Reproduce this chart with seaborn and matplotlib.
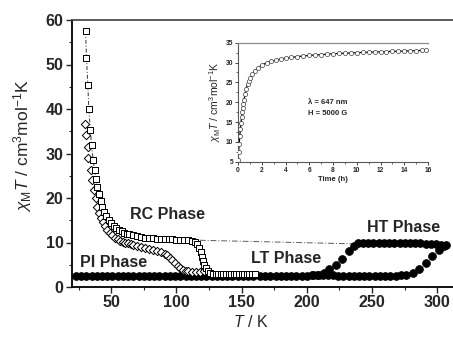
import matplotlib
matplotlib.use("Agg")
import matplotlib.pyplot as plt
import seaborn as sns
import pandas as pd

# ---------------- data ----------------
# open squares (RC phase)
sq_T = [30.4, 31.1, 32.1, 32.9, 34.1, 35.0, 36.2, 37.3, 38.4, 39.5, 40.8, 42.0, 43.3, 44.6,
        46, 48, 50, 52, 54, 56, 58, 60, 62, 64, 67, 70, 73, 76, 79, 82, 85, 88, 91, 94, 97,
        100, 103, 106, 109, 112, 114, 116, 117.5, 118.5, 119.5, 120.5, 121.5, 122.5, 124, 126,
        128, 130, 132, 134, 136, 138, 140, 142, 144, 146, 148, 150, 152, 154, 156, 158, 160]
sq_v = [57.5, 51.5, 45.5, 40.0, 35.3, 31.8, 28.6, 26.2, 24.2, 22.5, 20.8, 19.3, 18.0, 16.9,
        16.0, 15.0, 14.3, 13.7, 13.2, 12.8, 12.5, 12.2, 12.0, 11.8, 11.6, 11.4, 11.25, 11.1, 11.0,
        10.9, 10.85, 10.8, 10.75, 10.7, 10.7, 10.65, 10.6, 10.55, 10.5, 10.4, 10.2, 9.7, 8.8, 7.8,
        6.8, 5.9, 5.0, 4.2, 3.5, 3.1, 3.0, 3.0, 3.0, 3.0, 3.0, 3.0, 3.0, 3.0, 3.0, 3.0, 3.0, 3.0,
        3.0, 3.0, 3.0, 3.0, 3.0]

# open diamonds (PI phase)
di_T = [30.0, 30.6, 31.9, 32.6, 34.4, 35.7, 37.0, 38.2, 39.5, 40.8, 42, 43.5, 45, 47, 49, 51,
        53, 55, 57, 59, 61, 63, 65, 67, 70, 73, 76, 79, 82, 85, 88, 91, 93, 95, 97, 99, 101,
        103, 105, 107, 109, 112, 115, 118, 121]
di_v = [36.6, 34.2, 31.5, 28.9, 26.3, 24.0, 21.8, 19.9, 18.0, 16.6, 15.6, 14.6, 13.8, 12.9,
        12.2, 11.6, 11.1, 10.7, 10.4, 10.2, 10.0, 9.8, 9.6, 9.4, 9.2, 9.0, 8.8, 8.6, 8.4, 8.2,
        7.9, 7.5, 7.1, 6.6, 6.0, 5.4, 4.8, 4.3, 3.9, 3.6, 3.5, 3.4, 3.4, 3.4, 3.5]

# filled circles, heating branch
heat_T = [23, 27, 31, 35, 39, 43, 47, 51, 55, 59, 63, 67, 71, 75, 79, 83, 87, 91, 95, 99, 103,
          107, 111, 115, 119, 123, 127, 131, 135, 139, 143, 147, 151, 155, 159, 164, 168, 172,
          176, 180, 184, 188, 192, 196, 200, 204, 208, 212, 216, 220, 224, 228, 232, 236, 240,
          244, 248, 252, 256, 260, 264, 268, 272, 276, 281, 286, 291, 296, 301, 305]
heat_v = [2.5, 2.5, 2.5, 2.5, 2.5, 2.5, 2.5, 2.5, 2.5, 2.5, 2.5, 2.5, 2.5, 2.5, 2.5, 2.5, 2.5,
          2.5, 2.5, 2.5, 2.5, 2.5, 2.5, 2.5, 2.5, 2.5, 2.5, 2.5, 2.5, 2.5, 2.5, 2.5, 2.5, 2.5,
          2.5, 2.5, 2.5, 2.5, 2.5, 2.5, 2.5, 2.5, 2.5, 2.5, 2.5, 2.6, 2.6, 2.7, 2.7, 2.6, 2.5,
          2.5, 2.5, 2.5, 2.5, 2.5, 2.5, 2.5, 2.5, 2.5, 2.5, 2.5, 2.6, 2.8, 3.2, 4.0, 5.3, 7.0,
          8.3, 9.2]

# filled circles, cooling branch
cool_T = [307, 303, 299, 295, 291, 287, 283, 279, 275, 271, 267, 263, 259, 255, 251, 247, 243,
          239, 236, 232, 227, 222, 217, 213, 209, 205]
cool_v = [9.4, 9.5, 9.6, 9.7, 9.7, 9.8, 9.8, 9.8, 9.9, 9.9, 9.9, 10.0, 10.0, 10.0, 10.0, 10.0,
          10.0, 9.8, 9.2, 8.2, 6.4, 4.9, 4.0, 3.2, 2.8, 2.6]

# dash-dot guide line from RC plateau to HT phase
guide_T = [118, 236, 305]
guide_v = [10.5, 9.7, 9.4]

# inset: relaxation vs time
ins_t = [0.0, 0.05, 0.1, 0.15, 0.2, 0.25, 0.3, 0.35, 0.4, 0.45, 0.5, 0.6, 0.7, 0.8, 0.9, 1.0,
         1.2, 1.4, 1.7, 2.0, 2.4, 2.8, 3.2, 3.6, 4.0, 4.5, 5.0, 5.5, 6.0, 6.5, 7.0, 7.5, 8.0,
         8.5, 9.0, 9.5, 10.0, 10.5, 11.0, 11.5, 12.0, 12.5, 13.0, 13.5, 14.0, 14.5, 15.0, 15.5,
         15.8]
ins_v = [5.5, 7.5, 9.5, 11.5, 13.2, 14.8, 16.2, 17.5, 18.6, 19.6, 20.5, 22.1, 23.4, 24.5, 25.3,
         26.0, 27.0, 27.8, 28.7, 29.4, 29.9, 30.3, 30.6, 30.9, 31.1, 31.3, 31.5, 31.65, 31.8,
         31.9, 32.0, 32.1, 32.2, 32.3, 32.35, 32.4, 32.5, 32.55, 32.6, 32.65, 32.7, 32.75, 32.8,
         32.85, 32.9, 32.95, 33.0, 33.05, 33.1]

main_xticks = [50, 100, 150, 200, 250, 300]
main_yticks = [0, 10, 20, 30, 40, 50, 60]
ins_xticks = [0, 2, 4, 6, 8, 10, 12, 14, 16]
ins_yticks = [5, 10, 15, 20, 25, 30, 35]

# ---------------- style ----------------
sns.set_style("ticks")
plt.rcParams['font.family'] = ['Liberation Sans', 'DejaVu Sans']
plt.rcParams['mathtext.fontset'] = 'custom'
plt.rcParams['mathtext.rm'] = 'Liberation Sans'
plt.rcParams['mathtext.it'] = 'Liberation Sans:italic'

fig = plt.figure(figsize=(4.53, 3.38), dpi=100)
ax = fig.add_axes([72/453, 1-287/338, 381/453, 267/338])

df_sq = pd.DataFrame({"T": sq_T, "v": sq_v})
df_di = pd.DataFrame({"T": di_T, "v": di_v})
df_h = pd.DataFrame({"T": heat_T, "v": heat_v})
df_c = pd.DataFrame({"T": cool_T, "v": cool_v})
df_g = pd.DataFrame({"T": guide_T, "v": guide_v})

sns.lineplot(data=df_g, x="T", y="v", ax=ax, color="0.35", lw=0.7, linestyle=(0, (6, 2, 1, 2)),
             sort=False, estimator=None)
sns.lineplot(data=df_sq, x="T", y="v", ax=ax, color="0.2", lw=0.7, linestyle=(0, (4, 2, 1, 2)),
             sort=False, estimator=None)
sns.scatterplot(data=df_h, x="T", y="v", ax=ax, marker="o", s=32, color="black",
                edgecolor="black", linewidth=0.5, zorder=3)
sns.scatterplot(data=df_c, x="T", y="v", ax=ax, marker="o", s=32, color="black",
                edgecolor="black", linewidth=0.5, zorder=3)
sns.scatterplot(data=df_di, x="T", y="v", ax=ax, marker="D", s=18, color="white",
                edgecolor="black", linewidth=0.7, zorder=4)
sns.scatterplot(data=df_sq, x="T", y="v", ax=ax, marker="s", s=22, color="white",
                edgecolor="black", linewidth=0.7, zorder=5)

ax.set_xlim(20, 312)
ax.set_ylim(0, 60)
ax.set_xticks(main_xticks)
ax.set_yticks(main_yticks)
ax.set_xticks([25, 75, 125, 175, 225, 275], minor=True)
ax.set_yticks([5, 15, 25, 35, 45, 55], minor=True)
ax.tick_params(axis='both', which='major', direction='out', length=4, width=1.0, labelsize=11.5,
               pad=2)
ax.tick_params(axis='both', which='minor', direction='out', length=2.5, width=0.8)
for lab in ax.get_xticklabels() + ax.get_yticklabels():
    lab.set_fontweight('bold')
for s in ["left", "bottom"]:
    ax.spines[s].set_linewidth(1.3)
    ax.spines[s].set_color("black")
ax.spines["top"].set_linewidth(1.3)
ax.spines["top"].set_color("0.3")
ax.spines["right"].set_visible(False)

ax.set_xlabel(r"$T$ / K", fontsize=11.5)
ax.set_ylabel(r"$\chi_{\rm M}T$ / cm$^3$mol$^{-1}$K", fontsize=12.5)
ax.xaxis.set_label_coords(0.47, -0.10)
ax.yaxis.set_label_coords(-0.10, 0.53)

ax.text(64.5, 16.2, "RC Phase", fontsize=11.5, fontweight='bold', ha='left', va='center')
ax.text(26, 5.6, "PI Phase", fontsize=11.5, fontweight='bold', ha='left', va='center')
ax.text(157, 6.4, "LT Phase", fontsize=11.5, fontweight='bold', ha='left', va='center')
ax.text(246, 13.4, "HT Phase", fontsize=11.5, fontweight='bold', ha='left', va='center')

# ---------------- inset ----------------
ins = fig.add_axes([238/453, 1-161.7/338, 190/453, 119/338])
ins.patch.set_alpha(0)
df_i = pd.DataFrame({"t": ins_t, "v": ins_v})
sns.lineplot(data=df_i, x="t", y="v", ax=ins, color="black", lw=0.9, sort=False, estimator=None)
sns.scatterplot(data=df_i, x="t", y="v", ax=ins, marker="o", s=9, color="white",
                edgecolor="0.25", linewidth=0.5, zorder=3)
ins.set_xlim(0, 16)
ins.set_ylim(5, 35)
ins.set_xticks(ins_xticks)
ins.set_yticks(ins_yticks)
ins.set_xticks([1, 3, 5, 7, 9, 11, 13, 15], minor=True)
ins.set_yticks([7.5, 12.5, 17.5, 22.5, 27.5, 32.5], minor=True)
ins.tick_params(axis='both', which='major', direction='out', length=2, width=0.6, labelsize=4.8,
                pad=1.5)
ins.tick_params(axis='both', which='minor', direction='out', length=1.2, width=0.5)
for lab in ins.get_xticklabels() + ins.get_yticklabels():
    lab.set_fontweight('bold')
for s in ["left", "bottom"]:
    ins.spines[s].set_linewidth(0.8)
    ins.spines[s].set_color("0.35")
ins.spines["top"].set_linewidth(0.9)
ins.spines["top"].set_color("0.55")
ins.spines["right"].set_visible(False)
ins.set_xlabel("Time (h)", fontsize=5.5, fontweight='bold', labelpad=2)
ins.set_ylabel(r"$\chi_{\rm M}T$ / cm$^3$mol$^{-1}$K", fontsize=7.5, labelpad=2)
ins.text(5.9, 19.8, "λ = 647 nm", fontsize=5.5, fontweight='bold', ha='left', va='center')
ins.text(5.9, 17.2, "H = 5000 G", fontsize=5.5, fontweight='bold', ha='left', va='center')

fig.savefig("out.png", dpi=100)
